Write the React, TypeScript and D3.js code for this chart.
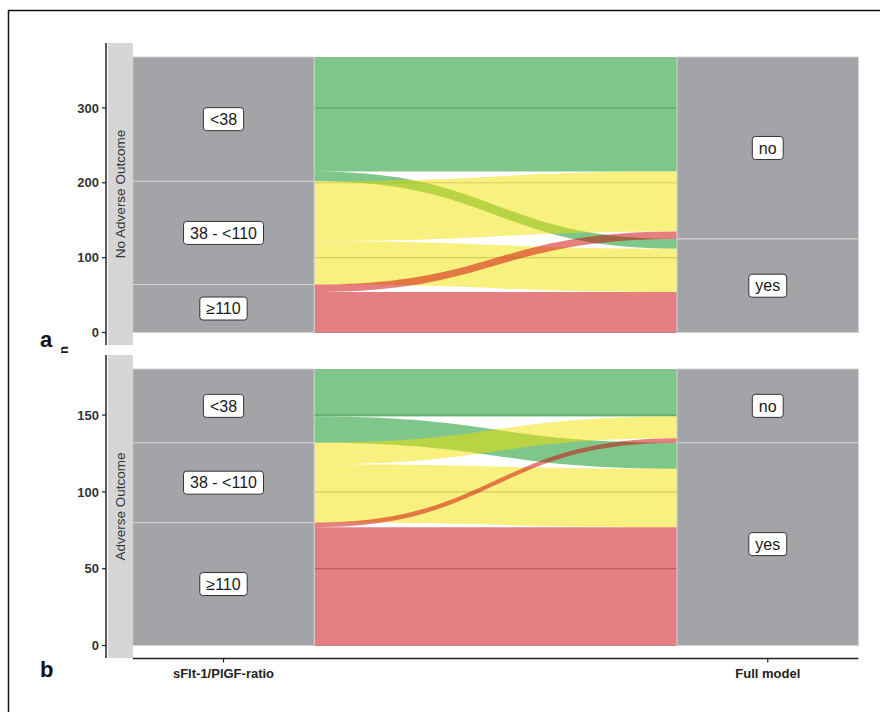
import { useEffect, useRef } from 'react';
import * as d3 from 'd3';

// sFlt-1/PlGF categories (left axis) and full model prediction (right axis)
const ratioStrata = ['<38', '38 - <110', '≥110'];
const modelStrata = ['no', 'yes'];
const ratioColors = ['#008d15', '#f1e100', '#cd0101'];

// counts per ratio category flowing into model "no" / "yes"
const noAdverseToNo = [153, 80, 10];
const noAdverseToYes = [13, 58, 54];
const adverseToNo = [31, 14, 3];
const adverseToYes = [17, 38, 77];

const ticksA = [0, 100, 200, 300];
const ticksB = [0, 50, 100, 150];

const axisLabels = ['sFlt-1/PlGF-ratio', 'Full model'];

const panels = [
  { title: 'No Adverse Outcome', tag: 'a', toNo: noAdverseToNo, toYes: noAdverseToYes, ticks: ticksA, top: 43, bottom: 345 },
  { title: 'Adverse Outcome', tag: 'b', toNo: adverseToNo, toYes: adverseToYes, ticks: ticksB, top: 355, bottom: 658 },
];

const FONT = "'Liberation Sans', Arial, sans-serif";

const App = () => {
  const svgRef = useRef<SVGSVGElement>(null);

  useEffect(() => {
    if (!svgRef.current) return;
    const svg = d3.select(svgRef.current);
    svg.selectAll('*').remove();

    // outer frame
    svg
      .append('rect')
      .attr('x', 8.5)
      .attr('y', 10.5)
      .attr('width', 900)
      .attr('height', 760)
      .attr('fill', 'none')
      .attr('stroke', '#111')
      .attr('stroke-width', 1.5);

    const x = d3.scaleLinear().domain([1, 2]).range([223.5, 767.75]);
    const sw = (x(2) - x(1)) / 3;
    const panelLeft = x(1) - sw / 2;
    const panelRight = x(2) + sw / 2;
    const axisX = 106;

    const labelBox = (g: any, cx: number, cy: number, text: string) => {
      const grp = g.append('g');
      const rect = grp.append('rect');
      const t = grp
        .append('text')
        .attr('x', cx)
        .attr('y', cy)
        .attr('dy', '0.36em')
        .attr('text-anchor', 'middle')
        .attr('font-family', FONT)
        .attr('font-size', 16)
        .attr('fill', '#1a1a1a')
        .text(text);
      const bb = (t.node() as SVGTextElement).getBBox();
      rect
        .attr('x', cx - bb.width / 2 - 6.5)
        .attr('y', cy - 11.5)
        .attr('width', bb.width + 13)
        .attr('height', 23)
        .attr('rx', 3)
        .attr('fill', 'white')
        .attr('stroke', '#333')
        .attr('stroke-width', 1);
    };

    panels.forEach((p) => {
      const g = svg.append('g');
      const leftTotals = p.toNo.map((v, i) => v + p.toYes[i]);
      const total = d3.sum(leftTotals);
      const noTotal = d3.sum(p.toNo);
      const y = d3.scaleLinear().domain([0, total]).range([p.bottom - 12.5, p.top + 14]);

      // strip
      g.append('rect')
        .attr('x', 108)
        .attr('y', p.top)
        .attr('width', 25)
        .attr('height', p.bottom - p.top)
        .attr('fill', '#d6d6d6');
      g.append('text')
        .attr('transform', `translate(124.5,${(p.top + p.bottom) / 2}) rotate(-90)`)
        .attr('text-anchor', 'middle')
        .attr('font-family', FONT)
        .attr('font-size', 13.5)
        .attr('fill', '#333')
        .text(p.title);

      // grid lines (under the translucent flows)
      g.selectAll('.grid')
        .data(p.ticks)
        .join('line')
        .attr('x1', panelLeft)
        .attr('x2', panelRight)
        .attr('y1', (d) => y(d))
        .attr('y2', (d) => y(d))
        .attr('stroke', '#b8b8b8')
        .attr('stroke-width', 1.2);

      // flow positions at each axis
      type Flow = { color: string; l0: number; l1: number; r0: number; r1: number };
      const flows: Flow[] = [];
      const rightOffsets = [0, noTotal];
      let leftCum = 0;
      const rightCum = [0, 0];
      ratioStrata.forEach((_, i) => {
        [p.toNo[i], p.toYes[i]].forEach((v, j) => {
          const rStart = rightOffsets[j] + rightCum[j];
          flows.push({
            color: ratioColors[i],
            l0: y(total - leftCum),
            l1: y(total - leftCum - v),
            r0: y(total - rStart),
            r1: y(total - rStart - v),
          });
          leftCum += v;
          rightCum[j] += v;
        });
      });

      const x0 = x(1) + sw / 2;
      const x1 = x(2) - sw / 2;
      const xm = (x0 + x1) / 2;
      const flowPath = (f: Flow) => {
        const path = d3.path();
        path.moveTo(x0, f.l0);
        path.bezierCurveTo(xm, f.l0, xm, f.r0, x1, f.r0);
        path.lineTo(x1, f.r1);
        path.bezierCurveTo(xm, f.r1, xm, f.l1, x0, f.l1);
        path.closePath();
        return path.toString();
      };

      g.selectAll('.flow')
        .data(flows)
        .join('path')
        .attr('d', flowPath)
        .attr('fill', (d) => d.color)
        .attr('fill-opacity', 0.5);

      // strata
      let cum = 0;
      ratioStrata.forEach((name, i) => {
        const y0 = y(total - cum);
        const y1 = y(total - cum - leftTotals[i]);
        g.append('rect')
          .attr('x', x(1) - sw / 2)
          .attr('y', y0)
          .attr('width', sw)
          .attr('height', y1 - y0)
          .attr('fill', '#a3a4a8')
          .attr('stroke', '#d2d2d2')
          .attr('stroke-width', 1);
        cum += leftTotals[i];
      });
      const modelTotals = [noTotal, total - noTotal];
      cum = 0;
      modelStrata.forEach((name, j) => {
        const y0 = y(total - cum);
        const y1 = y(total - cum - modelTotals[j]);
        g.append('rect')
          .attr('x', x(2) - sw / 2)
          .attr('y', y0)
          .attr('width', sw)
          .attr('height', y1 - y0)
          .attr('fill', '#a3a4a8')
          .attr('stroke', '#d2d2d2')
          .attr('stroke-width', 1);
        cum += modelTotals[j];
      });

      // stratum labels
      cum = 0;
      ratioStrata.forEach((name, i) => {
        labelBox(g, x(1), y(total - cum - leftTotals[i] / 2), name);
        cum += leftTotals[i];
      });
      cum = 0;
      modelStrata.forEach((name, j) => {
        labelBox(g, x(2), y(total - cum - modelTotals[j] / 2), name);
        cum += modelTotals[j];
      });

      // y axis
      g.append('line')
        .attr('x1', axisX)
        .attr('x2', axisX)
        .attr('y1', p.top)
        .attr('y2', p.bottom)
        .attr('stroke', '#222')
        .attr('stroke-width', 1.5);
      const tk = g.selectAll('.tick').data(p.ticks).join('g');
      tk.append('line')
        .attr('x1', axisX - 4)
        .attr('x2', axisX)
        .attr('y1', (d) => y(d))
        .attr('y2', (d) => y(d))
        .attr('stroke', '#222')
        .attr('stroke-width', 1.2);
      tk.append('text')
        .attr('x', axisX - 7)
        .attr('y', (d) => y(d))
        .attr('dy', '0.36em')
        .attr('text-anchor', 'end')
        .attr('font-family', FONT)
        .attr('font-weight', 'bold')
        .attr('font-size', 13)
        .attr('fill', '#333')
        .text((d) => d);

      // panel tag
      svg
        .append('text')
        .attr('x', 40)
        .attr('y', p.tag === 'a' ? 347 : 677)
        .attr('font-family', FONT)
        .attr('font-weight', 'bold')
        .attr('font-size', 22)
        .attr('fill', '#111')
        .text(p.tag);
    });

    // x axis
    const xAxisY = 658.5;
    svg
      .append('line')
      .attr('x1', panelLeft)
      .attr('x2', panelRight)
      .attr('y1', xAxisY)
      .attr('y2', xAxisY)
      .attr('stroke', '#222')
      .attr('stroke-width', 1.5);
    axisLabels.forEach((lab, i) => {
      svg
        .append('line')
        .attr('x1', x(i + 1))
        .attr('x2', x(i + 1))
        .attr('y1', xAxisY)
        .attr('y2', xAxisY + 4)
        .attr('stroke', '#222')
        .attr('stroke-width', 1.2);
      svg
        .append('text')
        .attr('x', x(i + 1))
        .attr('y', 678)
        .attr('text-anchor', 'middle')
        .attr('font-family', FONT)
        .attr('font-weight', 'bold')
        .attr('font-size', 13)
        .attr('fill', '#222')
        .text(lab);
    });

    // shared y title
    svg
      .append('text')
      .attr('transform', 'translate(68,350) rotate(-90)')
      .attr('text-anchor', 'middle')
      .attr('font-family', FONT)
      .attr('font-weight', 'bold')
      .attr('font-size', 13)
      .attr('fill', '#222')
      .text('n');
  }, []);

  return (
    <svg
      ref={svgRef}
      width={880}
      height={712}
      style={{ position: 'absolute', left: 0, top: 0, background: 'white' }}
    />
  );
};

export default App;
